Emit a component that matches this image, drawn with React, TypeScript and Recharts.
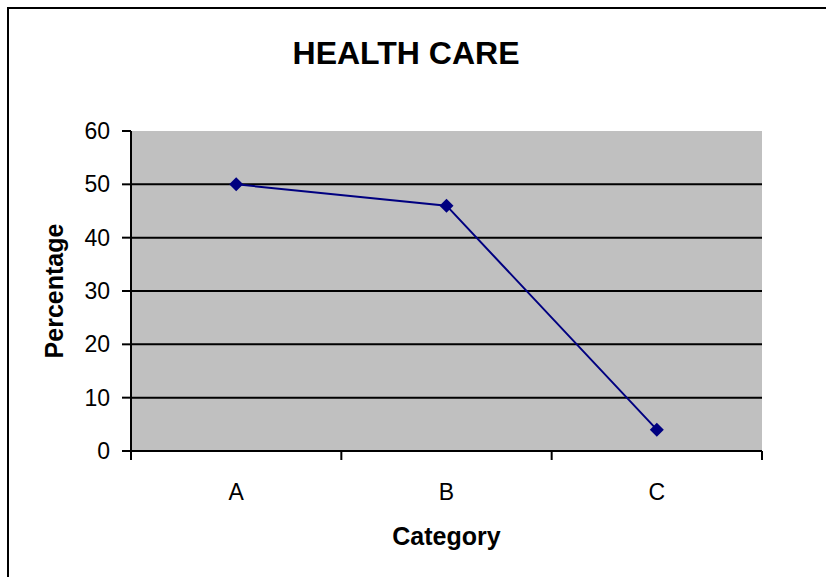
import React from "react";
import { LineChart, Line, XAxis, YAxis, CartesianGrid } from "recharts";

const categories = ["A", "B", "C"];
const percentages = [50, 46, 4];
const yTicks = [0, 10, 20, 30, 40, 50, 60];
const gridValues = [10, 20, 30, 40, 50];

const data = categories.map((category, i) => ({ category, value: percentages[i] }));

const FONT = "'Liberation Sans', Arial, Helvetica, sans-serif";
const NAVY = "#000080";
const TICK_SIZE = 9;
const TICK_MARGIN = 4;

// category label in the middle of each band, tick marks on the band edges
const CategoryTick = (props: any) => {
  const { x, y, payload, index, width, visibleTicksCount } = props;
  const half = width / ((visibleTicksCount || 3) * 2);
  const axisY = y - TICK_SIZE - TICK_MARGIN;
  const isLast = index === (visibleTicksCount || 3) - 1;
  return (
    <g>
      <line x1={x - half} y1={axisY} x2={x - half} y2={axisY + TICK_SIZE} stroke="#000" strokeWidth={2} />
      {isLast && (
        <line x1={x + half} y1={axisY} x2={x + half} y2={axisY + TICK_SIZE} stroke="#000" strokeWidth={2} />
      )}
      <text x={x} y={axisY + 49} textAnchor="middle" fontSize={23} fontFamily={FONT} fill="#000">
        {payload.value}
      </text>
    </g>
  );
};

const Diamond = (props: any) => {
  const { cx, cy } = props;
  if (cx == null || cy == null) return null;
  const r = 7;
  return <path d={`M${cx},${cy - r}L${cx + r},${cy}L${cx},${cy + r}L${cx - r},${cy}Z`} fill={NAVY} />;
};

export default function App() {
  return (
    <div
      style={{
        position: "absolute",
        left: 0,
        top: 0,
        width: 826,
        height: 577,
        overflow: "hidden",
        background: "#fff",
        fontFamily: FONT,
      }}
    >
      <div
        style={{
          position: "absolute",
          left: 7,
          top: 7,
          width: 860,
          height: 620,
          borderLeft: "2px solid #000",
          borderTop: "2px solid #000",
        }}
      />
      <div
        style={{
          position: "absolute",
          left: 0,
          top: 37,
          width: 812,
          textAlign: "center",
          fontSize: 32,
          lineHeight: "32px",
          fontWeight: "bold",
          color: "#000",
        }}
      >
        HEALTH CARE
      </div>
      <div style={{ position: "absolute", left: 0, top: 0 }}>
        <LineChart width={826} height={577} data={data} margin={{ top: 131, right: 64, bottom: 26, left: 31 }}>
          <CartesianGrid
            vertical={false}
            horizontalValues={gridValues}
            stroke="#000"
            strokeWidth={2}
            fill="#C0C0C0"
            fillOpacity={1}
          />
          <XAxis
            dataKey="category"
            scale="band"
            height={100}
            tickLine={false}
            tickSize={TICK_SIZE}
            tickMargin={TICK_MARGIN}
            axisLine={{ stroke: "#000", strokeWidth: 2 }}
            tick={<CategoryTick />}
            label={{
              value: "Category",
              position: "insideBottom",
              offset: 6,
              fontSize: 25,
              fontWeight: "bold",
              fontFamily: FONT,
              fill: "#000",
            }}
          />
          <XAxis
            xAxisId="top"
            dataKey="category"
            orientation="top"
            height={0}
            tick={false}
            tickLine={false}
            axisLine={{ stroke: "#808080", strokeWidth: 2 }}
          />
          <YAxis
            domain={[0, 60]}
            ticks={yTicks}
            width={100}
            tickSize={TICK_SIZE}
            tickMargin={12}
            axisLine={{ stroke: "#000", strokeWidth: 2 }}
            tickLine={{ stroke: "#000", strokeWidth: 2 }}
            tick={{ fill: "#000", fontSize: 23, fontFamily: FONT }}
            label={{
              value: "Percentage",
              angle: -90,
              position: "insideLeft",
              offset: 23,
              style: { textAnchor: "middle" },
              fontSize: 25,
              fontWeight: "bold",
              fontFamily: FONT,
              fill: "#000",
            }}
          />
          <YAxis
            yAxisId="right"
            orientation="right"
            width={0}
            domain={[0, 60]}
            tick={false}
            tickLine={false}
            axisLine={{ stroke: "#808080", strokeWidth: 2 }}
          />
          <Line
            type="linear"
            dataKey="value"
            stroke={NAVY}
            strokeWidth={2}
            dot={<Diamond />}
            activeDot={false}
            isAnimationActive={false}
          />
        </LineChart>
      </div>
    </div>
  );
}
